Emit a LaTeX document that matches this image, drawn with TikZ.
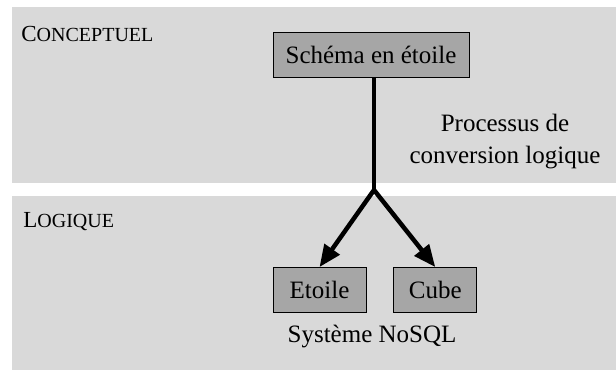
\documentclass[tikz,border=0pt]{standalone}
\usepackage{fontspec}
\setmainfont{Liberation Serif}
\usetikzlibrary{positioning,arrows.meta}
\definecolor{bandgray}{RGB}{217,217,217}
\definecolor{boxgray}{RGB}{166,166,166}
\newcommand{\fauxsc}[2]{{\fontsize{23}{26}\selectfont #1}{\fontsize{20}{22}\selectfont #2}}

\begin{document}
\begin{tikzpicture}[x=1pt, y=-1pt, thick,
    box/.style = {draw, fill=boxgray, minimum height=45pt, inner sep=0pt, font=\fontsize{25}{30}\selectfont},
    lbl/.style = {font=\fontsize{25}{32}\selectfont, align=center, inner sep=0pt},
    layer/.style = {anchor=base west, inner sep=0pt},
    link/.style = {line width=4.5pt, -{Triangle[length=22pt, width=18pt]}}]
    \useasboundingbox (0,0) rectangle (616,372);
    \fill[bandgray] (12,7) rectangle (616,183);
    \fill[bandgray] (12,196) rectangle (616,370);
    \node[layer] (conc) at (21,41) {\fauxsc{C}{ONCEPTUEL}};
    \node[layer] (logi) at (23,227) {\fauxsc{L}{OGIQUE}};
    \node[box, minimum width=196pt] (schema) at (371,54.5) {Schéma en étoile};
    \node[box, minimum width=93pt] (etoile) at (319.5,290) {Etoile};
    \node[box, minimum width=83pt, right=27pt of etoile] (cube) {Cube};
    \node[lbl, anchor=base] (nosql) at (372,342) {Système NoSQL};
    \node[lbl] (proc) at (505,142) {Processus de\\conversion logique};
    \coordinate (split) at (374,190);
    \draw[line width=4.5pt] (schema.south -| split) -- (split);
    \draw[link] (split) -- (etoile.north);
    \draw[link] (split) -- (cube.north);
\end{tikzpicture}
\end{document}
